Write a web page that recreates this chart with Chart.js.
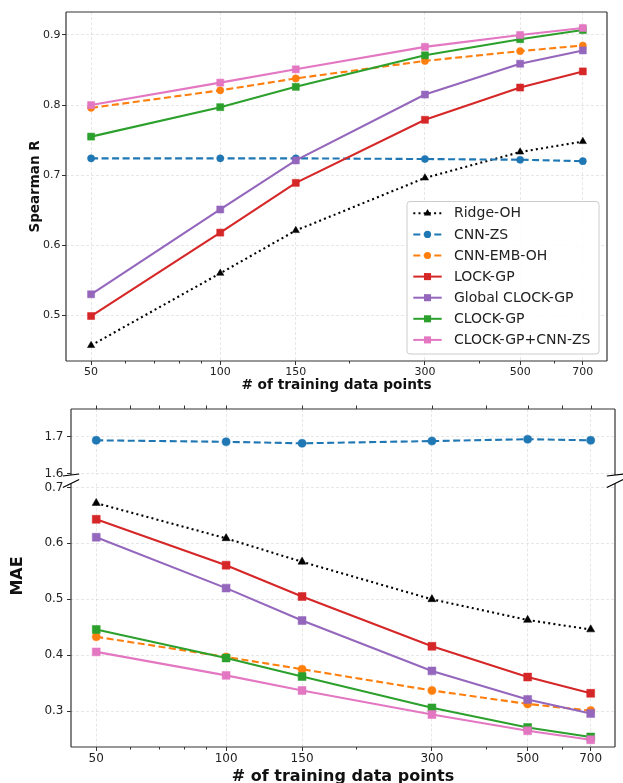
<!DOCTYPE html>
<html>
<head>
<meta charset="utf-8">
<script src="https://cdn.jsdelivr.net/npm/chart.js@4.4.1/dist/chart.umd.min.js"></script>
<style>
  html, body { margin: 0; padding: 0; background: #fff; overflow: hidden; }
  #wrap { position: relative; width: 623px; height: 783px; overflow: hidden; }
  canvas { position: absolute; left: 0; }
</style>
</head>
<body>
<div id="wrap">
  <canvas id="spearmanChart" style="top:0px;width:623px;height:400px" width="623" height="400"></canvas>
  <canvas id="maeHighChart" style="top:400px;width:623px;height:90px" width="623" height="90"></canvas>
  <canvas id="maeLowChart" style="top:466px;width:623px;height:320px" width="623" height="320"></canvas>
</div>
<script>
// x values (log axis)
const trainSizes = [50, 100, 150, 300, 500, 700];
const minorSizes = [60, 70, 80, 90, 200, 400, 600];

const methodNames = ['Ridge-OH', 'CNN-ZS', 'CNN-EMB-OH', 'LOCK-GP', 'Global CLOCK-GP', 'CLOCK-GP', 'CLOCK-GP+CNN-ZS'];

// Spearman R
const spearmanRidgeOH   = [0.457, 0.560, 0.621, 0.696, 0.733, 0.748];
const spearmanCnnZs     = [0.724, 0.724, 0.724, 0.723, 0.722, 0.720];
const spearmanCnnEmbOh  = [0.796, 0.821, 0.838, 0.863, 0.877, 0.885];
const spearmanLockGp    = [0.499, 0.618, 0.689, 0.779, 0.825, 0.848];
const spearmanGlobal    = [0.530, 0.651, 0.721, 0.815, 0.859, 0.878];
const spearmanClockGp   = [0.755, 0.797, 0.826, 0.871, 0.894, 0.907];
const spearmanClockCnn  = [0.800, 0.832, 0.851, 0.883, 0.900, 0.910];

// MAE
const maeRidgeOH   = [0.672, 0.609, 0.567, 0.500, 0.463, 0.446];
const maeCnnZs     = [1.690, 1.686, 1.682, 1.688, 1.693, 1.690];
const maeCnnEmbOh  = [0.433, 0.397, 0.375, 0.337, 0.313, 0.301];
const maeLockGp    = [0.643, 0.561, 0.505, 0.416, 0.361, 0.332];
const maeGlobal    = [0.611, 0.520, 0.462, 0.372, 0.321, 0.296];
const maeClockGp   = [0.446, 0.395, 0.362, 0.306, 0.271, 0.254];
const maeClockCnn  = [0.406, 0.364, 0.337, 0.294, 0.265, 0.249];

const spearmanTicks = [0.5, 0.6, 0.7, 0.8, 0.9];
const maeHighTicks = [1.6, 1.7];
const maeLowTicks = [0.3, 0.4, 0.5, 0.6, 0.7];

const FONT = 'DejaVu Sans';

// styles, one per method (same order as methodNames)
const seriesStyles = [
  { color: '#000000', dash: [2, 3.2], point: 'triangle', r: 4.2 },
  { color: '#1f77b4', dash: [7, 3.5], point: 'circle', r: 3.6 },
  { color: '#ff7f0e', dash: [7, 3.5], point: 'circle', r: 3.6 },
  { color: '#d62728', dash: [], point: 'rect', r: 5 },
  { color: '#9467bd', dash: [], point: 'rect', r: 5 },
  { color: '#2ca02c', dash: [], point: 'rect', r: 5 },
  { color: '#e377c2', dash: [], point: 'rect', r: 5 }
];

function makeDataset(idx, values, scale) {
  const s = seriesStyles[idx];
  return {
    label: methodNames[idx],
    data: trainSizes.map((x, i) => ({ x: x, y: values[i] })),
    borderColor: s.color,
    backgroundColor: s.color,
    pointBackgroundColor: s.color,
    pointBorderColor: s.color,
    pointBorderWidth: 0.5,
    pointStyle: s.point,
    pointRadius: s.r * scale,
    pointHoverRadius: s.r * scale,
    borderWidth: 2.1,
    borderDash: s.dash,
    tension: 0,
    order: methodNames.length - idx,
    _style: s
  };
}

function xAxis(opts) {
  return {
    type: 'logarithmic',
    min: 43.7,
    max: 797,
    afterBuildTicks: (scale) => { scale.ticks = trainSizes.map(v => ({ value: v })); },
    afterFit: (scale) => { scale.height = opts.height; },
    ticks: {
      display: opts.labels,
      autoSkip: false,
      maxRotation: 0,
      padding: 1,
      color: '#222',
      font: { family: FONT, size: opts.fontSize },
      callback: (v) => String(v)
    },
    grid: {
      color: 'rgba(0,0,0,0.12)', lineWidth: 0.8,
      drawTicks: opts.labels, tickLength: 4, tickColor: '#333', tickWidth: 1, tickBorderDash: []
    },
    border: { display: false, dash: [3, 2] },
    title: opts.title ? {
      display: true, text: opts.title, color: '#111',
      font: { family: FONT, size: opts.titleSize, weight: 'bold', lineHeight: 1.2 },
      padding: { top: 0, bottom: opts.titlePad }
    } : { display: false }
  };
}

function yAxis(opts) {
  return {
    type: 'linear',
    min: opts.min,
    max: opts.max,
    afterBuildTicks: (scale) => { scale.ticks = opts.ticks.map(v => ({ value: v })); },
    afterFit: (scale) => {
      scale.width = opts.width;
      // label overhang is already covered by the layout padding
      scale.paddingTop = 0;
      scale.paddingBottom = 0;
    },
    ticks: {
      padding: opts.tickPad,
      color: '#222',
      font: { family: FONT, size: opts.fontSize },
      callback: (v) => v.toFixed(1)
    },
    grid: {
      color: 'rgba(0,0,0,0.12)', lineWidth: 0.8,
      drawTicks: true, tickLength: 4, tickColor: '#333', tickWidth: 1, tickBorderDash: []
    },
    border: { display: false, dash: [3, 2] },
    title: opts.title ? {
      display: true, text: opts.title, color: '#111',
      font: { family: FONT, size: opts.titleSize, weight: 'bold', lineHeight: 1.2 },
      padding: { top: opts.titlePad, bottom: 0 }
    } : { display: false }
  };
}

// frame around the chart area, on selected sides
const framePlugin = {
  id: 'frame',
  afterDatasetsDraw(chart, args, opts) {
    const a = chart.chartArea, ctx = chart.ctx;
    ctx.save();
    ctx.strokeStyle = '#333';
    ctx.lineWidth = 1.2;
    ctx.beginPath();
    (opts.sides || []).forEach(side => {
      if (side === 'left') { ctx.moveTo(a.left, a.top); ctx.lineTo(a.left, a.bottom); }
      if (side === 'right') { ctx.moveTo(a.right, a.top); ctx.lineTo(a.right, a.bottom); }
      if (side === 'top') { ctx.moveTo(a.left, a.top); ctx.lineTo(a.right, a.top); }
      if (side === 'bottom') { ctx.moveTo(a.left, a.bottom); ctx.lineTo(a.right, a.bottom); }
    });
    ctx.stroke();
    ctx.restore();
  }
};

// extra tick marks on the x axis (minor ticks, or ticks on the top spine)
const extraTicksPlugin = {
  id: 'extraTicks',
  afterDatasetsDraw(chart, args, opts) {
    if (!opts.values) return;
    const a = chart.chartArea, ctx = chart.ctx, xs = chart.scales.x;
    const edge = opts.side === 'top' ? a.top : a.bottom;
    const dir = opts.side === 'top' ? -1 : 1;
    ctx.save();
    ctx.strokeStyle = '#333';
    ctx.lineWidth = 1;
    ctx.beginPath();
    opts.values.forEach(v => {
      const px = Math.round(xs.getPixelForValue(v)) + 0.5;
      ctx.moveTo(px, edge);
      ctx.lineTo(px, edge + dir * opts.len);
    });
    ctx.stroke();
    ctx.restore();
  }
};

function drawMarker(ctx, style, x, y, r) {
  ctx.beginPath();
  if (style === 'circle') {
    ctx.arc(x, y, r, 0, Math.PI * 2);
  } else if (style === 'rect') {
    const h = r * Math.SQRT1_2;
    ctx.rect(x - h, y - h, 2 * h, 2 * h);
  } else {
    ctx.moveTo(x, y - r);
    ctx.lineTo(x + r * Math.sin(Math.PI * 2 / 3), y - r * Math.cos(Math.PI * 2 / 3));
    ctx.lineTo(x + r * Math.sin(Math.PI * 4 / 3), y - r * Math.cos(Math.PI * 4 / 3));
    ctx.closePath();
  }
  ctx.fill();
}

// matplotlib-like legend box in the lower right of the plot
const boxLegendPlugin = {
  id: 'boxLegend',
  afterDraw(chart, args, opts) {
    if (!opts.show) return;
    const ctx = chart.ctx, a = chart.chartArea;
    const sets = chart.data.datasets;
    const rowH = 21.1, boxW = 192, boxH = 152.5;
    const x0 = a.right - 8 - boxW, y0 = a.bottom - 7 - boxH;
    ctx.save();
    ctx.beginPath();
    ctx.roundRect(x0, y0, boxW, boxH, 3);
    ctx.fillStyle = 'rgba(255,255,255,0.85)';
    ctx.fill();
    ctx.strokeStyle = '#cccccc';
    ctx.lineWidth = 1;
    ctx.stroke();
    sets.forEach((ds, i) => {
      const cy = y0 + 11.8 + i * rowH;
      const s = ds._style;
      ctx.strokeStyle = s.color;
      ctx.fillStyle = s.color;
      ctx.lineWidth = 2;
      ctx.setLineDash(s.dash);
      ctx.beginPath();
      ctx.moveTo(x0 + 6.3, cy);
      ctx.lineTo(x0 + 34.7, cy);
      ctx.stroke();
      ctx.setLineDash([]);
      drawMarker(ctx, s.point, x0 + 20.5, cy, s.r);
      ctx.fillStyle = '#222';
      ctx.font = '14px "' + FONT + '"';
      ctx.textBaseline = 'middle';
      ctx.textAlign = 'left';
      ctx.fillText(ds.label, x0 + 47, cy + 0.5);
    });
    ctx.restore();
  }
};

// axis-break marks and the shared MAE label
const breakPlugin = {
  id: 'breakMarks',
  afterDraw(chart, args, opts) {
    if (!opts.show) return;
    const ctx = chart.ctx, a = chart.chartArea;
    const upper = opts.upperBottom, lower = a.top;
    ctx.save();
    ctx.strokeStyle = '#000';
    ctx.lineWidth = 1.2;
    ctx.beginPath();
    [a.left, a.right].forEach(x => {
      ctx.moveTo(x - 8.2, upper + 1); ctx.lineTo(x + 8.2, upper - 1);
      ctx.moveTo(x - 8.2, lower + 4); ctx.lineTo(x + 8.2, lower - 4);
    });
    ctx.stroke();
    ctx.translate(opts.labelX, opts.labelY);
    ctx.rotate(-Math.PI / 2);
    ctx.fillStyle = '#111';
    ctx.font = 'bold 16px "' + FONT + '"';
    ctx.textAlign = 'center';
    ctx.textBaseline = 'middle';
    ctx.fillText(opts.label, 0, 0);
    ctx.restore();
  }
};

Chart.register(framePlugin, extraTicksPlugin, boxLegendPlugin, breakPlugin);

const baseOptions = {
  responsive: false,
  animation: false,
  devicePixelRatio: 1,
  events: []
};

// ---- top panel: Spearman R ----
const spearmanSeries = [spearmanRidgeOH, spearmanCnnZs, spearmanCnnEmbOh, spearmanLockGp, spearmanGlobal, spearmanClockGp, spearmanClockCnn];
new Chart(document.getElementById('spearmanChart'), {
  type: 'line',
  data: { datasets: spearmanSeries.map((vals, i) => makeDataset(i, vals, 1)) },
  options: Object.assign({}, baseOptions, {
    layout: { padding: { left: 0, right: 16, top: 12, bottom: 0 } },
    scales: {
      x: xAxis({ height: 39, labels: true, fontSize: 11, title: '# of training data points', titleSize: 13.7, titlePad: 6.8 }),
      y: yAxis({ min: 0.4348, max: 0.9328, ticks: spearmanTicks, width: 66, tickPad: 1.5, fontSize: 11, title: 'Spearman R', titleSize: 13.5, titlePad: 27 })
    },
    plugins: {
      legend: { display: false },
      tooltip: { enabled: false },
      frame: { sides: ['left', 'right', 'top', 'bottom'] },
      extraTicks: { values: minorSizes, side: 'bottom', len: 2.5 },
      boxLegend: { show: true },
      breakMarks: { show: false }
    }
  })
});

// ---- bottom panel, upper part: MAE 1.6 - 1.77 ----
new Chart(document.getElementById('maeHighChart'), {
  type: 'line',
  data: { datasets: [makeDataset(1, maeCnnZs, 1.12)] },
  options: Object.assign({}, baseOptions, {
    layout: { padding: { left: 0, right: 8, top: 9, bottom: 15 } },
    scales: {
      x: xAxis({ height: 0, labels: false, fontSize: 12 }),
      y: yAxis({ min: 1.597, max: 1.774, ticks: maeHighTicks, width: 71, tickPad: 3.5, fontSize: 12 })
    },
    plugins: {
      legend: { display: false },
      tooltip: { enabled: false },
      frame: { sides: ['left', 'right', 'top'] },
      extraTicks: { values: trainSizes.concat(minorSizes), side: 'top', len: 3.5 },
      boxLegend: { show: false },
      breakMarks: { show: false }
    }
  })
});

// ---- bottom panel, lower part: MAE 0.24 - 0.71 ----
const maeLowSeries = [maeRidgeOH, null, maeCnnEmbOh, maeLockGp, maeGlobal, maeClockGp, maeClockCnn];
new Chart(document.getElementById('maeLowChart'), {
  type: 'line',
  data: { datasets: maeLowSeries.map((vals, i) => vals ? makeDataset(i, vals, 1.12) : null).filter(d => d) },
  options: Object.assign({}, baseOptions, {
    layout: { padding: { left: 0, right: 8, top: 17.5, bottom: 0 } },
    scales: {
      x: xAxis({ height: 39, labels: true, fontSize: 12, title: '# of training data points', titleSize: 16, titlePad: 0 }),
      y: yAxis({ min: 0.236, max: 0.707, ticks: maeLowTicks, width: 71, tickPad: 3.5, fontSize: 12 })
    },
    plugins: {
      legend: { display: false },
      tooltip: { enabled: false },
      frame: { sides: ['left', 'right', 'bottom'] },
      extraTicks: { values: minorSizes, side: 'bottom', len: 2.5 },
      boxLegend: { show: false },
      breakMarks: { show: true, upperBottom: 9, label: 'MAE', labelX: 18.3, labelY: 110 }
    }
  })
});
</script>
</body>
</html>
